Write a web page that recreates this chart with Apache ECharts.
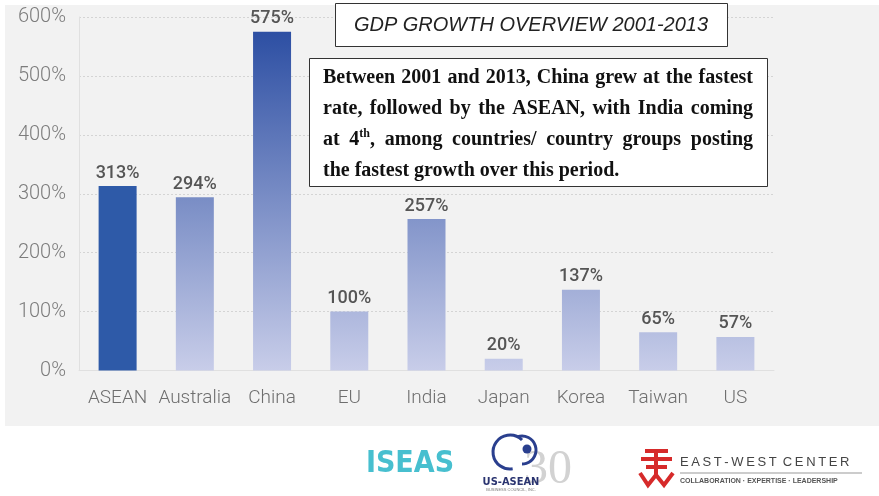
<!DOCTYPE html>
<html>
<head>
<meta charset="utf-8">
<title>GDP Growth Overview 2001-2013</title>
<script src="https://cdn.jsdelivr.net/npm/echarts@6/dist/echarts.min.js"></script>
<style>
  html, body { margin: 0; padding: 0; background: #ffffff; }
  #chart { width: 879px; height: 496px; }
</style>
</head>
<body>
<div id="chart"></div>
<script>
// ---- data ----
const categories = ['ASEAN', 'Australia', 'China', 'EU', 'India', 'Japan', 'Korea', 'Taiwan', 'US'];
const growth = [313, 294, 575, 100, 257, 20, 137, 65, 57];
const yTicks = [0, 100, 200, 300, 400, 500, 600];
const titleText = 'GDP GROWTH OVERVIEW 2001-2013';
const noteLines = [
  'Between 2001 and 2013, China grew at the fastest',
  'rate, followed by the ASEAN, with India coming',
  'at 4th, among countries/ country groups posting',
  'the fastest growth over this period.'
];
const highlightCategory = 'ASEAN';

// ---- style ----
const axisFont = "Roboto, 'DejaVu Sans Condensed', sans-serif";
const darkBlue = [45, 79, 163];
const lightBlue = [200, 205, 233];
const maxVal = Math.max(...growth);

function mix(a, b, t) {
  const c = a.map((v, i) => Math.round(v + (b[i] - v) * t));
  return 'rgb(' + c.join(',') + ')';
}

// each bar fades from a value-dependent blue at its top to lavender at the base
function barColor(v, name) {
  if (name === highlightCategory) return '#2e5aa8';
  return new echarts.graphic.LinearGradient(0, 0, 0, 1, [
    { offset: 0, color: mix(lightBlue, darkBlue, v / maxVal) },
    { offset: 1, color: mix(lightBlue, lightBlue, 0) }
  ]);
}

// ---- justified note text, laid out word by word ----
const mctx = document.createElement('canvas').getContext('2d');
const serif = "'Liberation Serif', 'Times New Roman', serif";
const bodyFont = 'bold 20px ' + serif;
const supFont = 'bold 12px ' + serif;
function measure(str, font) { mctx.font = font; return mctx.measureText(str).width; }

function wordPieces(word) {
  const m = word.match(/^(\d+)(st|nd|rd|th)(.*)$/);
  if (m) {
    return [
      { t: m[1], font: bodyFont, size: 20, dy: 0 },
      { t: m[2], font: supFont, size: 12, dy: -6 },
      { t: m[3], font: bodyFont, size: 20, dy: 0 }
    ].filter(p => p.t.length);
  }
  return [{ t: word, font: bodyFont, size: 20, dy: 0 }];
}

const note = { left: 323, right: 753, top: 78, step: 30.8 };
const noteElements = [];
noteLines.forEach((line, li) => {
  const words = line.split(' ').map(w => {
    const pieces = wordPieces(w);
    pieces.forEach(p => { p.w = measure(p.t, p.font); });
    return { pieces, w: pieces.reduce((s, p) => s + p.w, 0) };
  });
  const total = words.reduce((s, w) => s + w.w, 0);
  const last = li === noteLines.length - 1;
  const gap = last ? measure(' ', bodyFont) : (note.right - note.left - total) / (words.length - 1);
  let x = note.left;
  const y = note.top + li * note.step;
  words.forEach(w => {
    let px = x;
    w.pieces.forEach(p => {
      noteElements.push({
        type: 'text', x: px, y: y + p.dy, z: 12,
        style: {
          text: p.t, fontFamily: serif, fontWeight: 'bold', fontSize: p.size,
          fill: '#111', align: 'left', verticalAlign: 'middle'
        }
      });
      px += p.w;
    });
    x += w.w + gap;
  });
});

// ---- footer logos ----
const red = '#d62a2a';
const logoElements = [
  // ISEAS
  { type: 'text', x: 410, y: 464, style: { text: 'ISEAS', fontFamily: "'DejaVu Sans Condensed', sans-serif", fontWeight: 'bold', fontSize: 30, fill: '#47bfcf', align: 'center', verticalAlign: 'middle' } },
  // US-ASEAN Business Council
  { type: 'text', x: 548, y: 470, style: { text: '30', fontFamily: serif, fontSize: 48, fill: '#d2d2d2', align: 'center', verticalAlign: 'middle' } },
  { type: 'arc', shape: { cx: 510, cy: 452, r: 17, startAngle: Math.PI * 0.45, endAngle: Math.PI * 1.75 }, style: { stroke: '#2a3f8e', lineWidth: 3, fill: null } },
  { type: 'arc', shape: { cx: 522, cy: 450, r: 14, startAngle: -Math.PI * 0.6, endAngle: Math.PI * 0.5 }, style: { stroke: '#2a3f8e', lineWidth: 3, fill: null } },
  { type: 'circle', shape: { cx: 527, cy: 449, r: 4.5 }, style: { fill: '#2a3f8e' } },
  { type: 'text', x: 511, y: 482, style: { text: 'US-ASEAN', fontFamily: "'DejaVu Sans Condensed', sans-serif", fontWeight: 'bold', fontSize: 11, fill: '#2a3470', align: 'center', verticalAlign: 'middle' } },
  { type: 'text', x: 511, y: 490, style: { text: 'BUSINESS COUNCIL, INC.', fontFamily: 'sans-serif', fontSize: 4, fill: '#777', align: 'center', verticalAlign: 'middle' } },
  // East-West Center mark
  { type: 'polyline', shape: { points: [[645, 451], [668, 451]] }, style: { stroke: red, lineWidth: 4 } },
  { type: 'polyline', shape: { points: [[641, 459], [672, 459]] }, style: { stroke: red, lineWidth: 4 } },
  { type: 'polyline', shape: { points: [[646, 467], [667, 467]] }, style: { stroke: red, lineWidth: 4 } },
  { type: 'polyline', shape: { points: [[656, 451], [656, 475]] }, style: { stroke: red, lineWidth: 4 } },
  { type: 'polyline', shape: { points: [[640, 473], [648, 485], [656, 475], [664, 485], [673, 473]] }, style: { stroke: red, lineWidth: 4, fill: null } },
  { type: 'text', x: 680, y: 462, style: { text: 'E\u2009A\u2009S\u2009T\u2009-\u2009W\u2009E\u2009S\u2009T\u2009 C\u2009E\u2009N\u2009T\u2009E\u2009R', fontFamily: "'Liberation Sans', sans-serif", fontSize: 13, fill: '#444', align: 'left', verticalAlign: 'middle' } },
  { type: 'line', shape: { x1: 680, y1: 473, x2: 862, y2: 473 }, style: { stroke: '#999', lineWidth: 1 } },
  { type: 'text', x: 680, y: 481, style: { text: 'COLLABORATION \u00b7 EXPERTISE \u00b7 LEADERSHIP', fontFamily: "'Liberation Sans', sans-serif", fontWeight: 'bold', fontSize: 7, fill: '#555', align: 'left', verticalAlign: 'middle' } }
];

const chart = echarts.init(document.getElementById('chart'), null, { renderer: 'canvas' });

chart.setOption({
  backgroundColor: '#ffffff',
  animation: false,
  grid: { left: 79, right: 105, top: 17, bottom: 125.5 },
  xAxis: {
    type: 'category',
    data: categories,
    axisLine: { show: true, lineStyle: { color: '#e0e0e0', width: 1 } },
    axisTick: { show: false },
    axisLabel: { interval: 0, margin: 18, fontSize: 19, color: '#6e6e6e', fontFamily: axisFont, fontWeight: 300 }
  },
  yAxis: {
    type: 'value',
    min: yTicks[0],
    max: yTicks[yTicks.length - 1],
    interval: yTicks[1] - yTicks[0],
    axisLine: { show: true, lineStyle: { color: '#e0e0e0', width: 1 } },
    axisTick: { show: false },
    axisLabel: { margin: 13, fontSize: 20, color: '#7c7c7c', fontFamily: axisFont, fontWeight: 300, formatter: '{value}%' },
    splitLine: { show: true, lineStyle: { color: '#d4d4d4', type: [2, 2], width: 1 } }
  },
  series: [{
    type: 'bar',
    barWidth: 38,
    data: growth.map((v, i) => ({ value: v, itemStyle: { color: barColor(v, categories[i]) } })),
    label: {
      show: true, position: 'top', distance: 4,
      formatter: '{c}%', fontSize: 18, fontWeight: 500, color: '#555', fontFamily: axisFont
    }
  }],
  graphic: [
    // panel behind the plot
    { type: 'rect', z: -10, shape: { x: 5, y: 5, width: 874, height: 421 }, style: { fill: '#f2f2f2' } },
    // headline box
    { type: 'rect', z: 10, shape: { x: 335.5, y: 3.5, width: 392, height: 43 }, style: { fill: '#ffffff', stroke: '#333', lineWidth: 1 } },
    { type: 'text', z: 12, x: 531, y: 25, style: { text: titleText, fontFamily: "'Liberation Sans', Arial, sans-serif", fontStyle: 'italic', fontSize: 20, fill: '#222', align: 'center', verticalAlign: 'middle' } },
    // note box
    { type: 'rect', z: 10, shape: { x: 309.5, y: 58.5, width: 458, height: 128 }, style: { fill: '#ffffff', stroke: '#333', lineWidth: 1 } }
  ].concat(noteElements, logoElements)
});
</script>
</body>
</html>
